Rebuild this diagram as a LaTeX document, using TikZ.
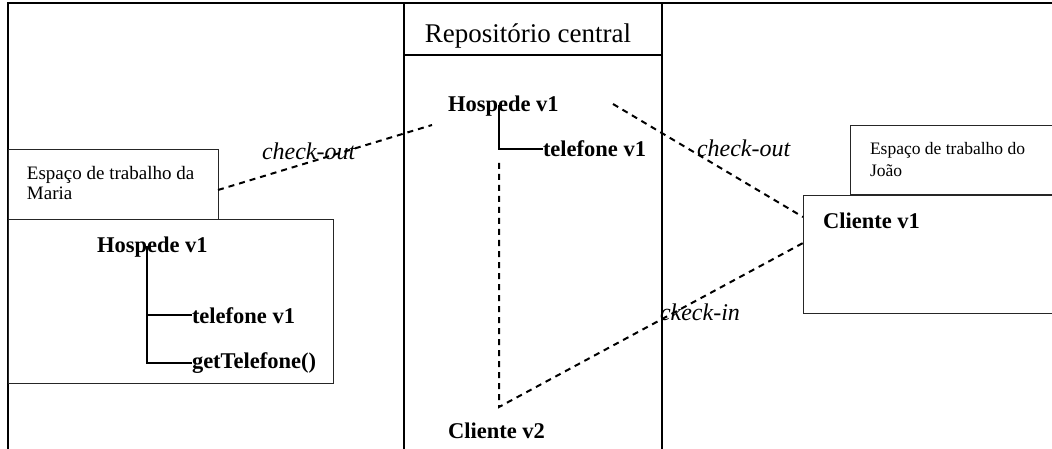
\documentclass[tikz,border=0pt]{standalone}
\usepackage{fontspec}
\setmainfont{Liberation Serif}
\begin{document}
\begin{tikzpicture}[x=1pt,y=-1pt,
  frame/.style={line width=1.5pt, black},
  box/.style={draw=black!85, line width=1pt, anchor=north west, inner sep=0pt, outer sep=0pt},
  txt/.style={anchor=base west, inner sep=0pt, outer sep=0pt},
  head/.style={anchor=base, inner sep=0pt, font=\fontsize{27}{30}\selectfont},
  item/.style={txt, font=\fontsize{22.5}{25}\selectfont\bfseries},
  lbl/.style={txt, font=\fontsize{24}{26}\selectfont\itshape},
  treeline/.style={line width=2pt, black},
  flow/.style={line width=2pt, black, dash pattern=on 6pt off 5pt}
]
\useasboundingbox (0,0) rectangle (1052,449);
\fill[white] (0,0) rectangle (1052,449);

% swimlane frame
\draw[frame] (8,449) -- (8,3) -- (1060,3);
\draw[frame] (404,3) -- (404,449);
\draw[frame] (662,3) -- (662,449);
\draw[frame] (404,55) -- (662,55);
\node[head] (repo) at (528,43) {Repositório central};

% Maria's workspace
\node[box, minimum width=210pt, minimum height=70pt] (mlbl) at (8,150) {};
\node[txt, font=\fontsize{19}{21}\selectfont] (mlblA) at (27,180) {Espaço de trabalho da};
\node[txt, font=\fontsize{19}{21}\selectfont] (mlblB) at (27,200) {Maria};
\node[box, minimum width=325pt, minimum height=163pt] (mbox) at (8,220) {};
\node[item] (hospM) at (97,252) {Hospede v1};
\node[item] (telM) at (192,323) {telefone v1};
\node[item] (getM) at (192,368) {getTelefone()};
\coordinate (mtree) at (147,246);
\draw[treeline] (mtree) |- (telM.west);
\draw[treeline] (mtree) |- (getM.west);

% central repository
\node[item] (hospR) at (448,112) {Hospede v1};
\node[item] (telR) at (543,157) {telefone v1};
\node[item] (cliR) at (448,438) {Cliente v2};
\coordinate (rtree) at (499,105);
\draw[treeline] (rtree) |- (telR.west);

% João's workspace
\node[box, minimum width=230pt, minimum height=69pt] (jlbl) at (850,126) {};
\node[txt, font=\fontsize{17.5}{20}\selectfont] (jlblA) at (870,155) {Espaço de trabalho do};
\node[txt, font=\fontsize{17.5}{20}\selectfont] (jlblB) at (870,177) {João};
\node[box, minimum width=270pt, minimum height=117pt] (cbox) at (803,196) {};
\node[item] (cliJ) at (823,229) {Cliente v1};

% check-out / check-in flows
\coordinate (moutA) at (218,190);
\coordinate (moutB) at (432,125);
\coordinate (joutA) at (613,104);
\coordinate (joutB) at (803,217);
\coordinate (vtop) at (499,163);
\coordinate (vbot) at (499,407);
\coordinate (jin) at (803,243);
\draw[flow] (moutA) -- (moutB);
\draw[flow] (joutA) -- (joutB);
\draw[flow] (vtop) -- (vbot) -- (jin);

\node[lbl] (coL) at (262,160) {check-out};
\node[lbl] (coR) at (697,157) {check-out};
\node[lbl] (ciR) at (660,320) {ckeck-in};
\end{tikzpicture}
\end{document}
